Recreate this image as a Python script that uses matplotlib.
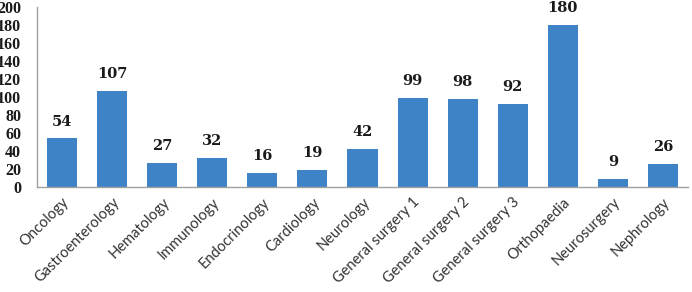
import matplotlib
matplotlib.use("Agg")
import matplotlib.pyplot as plt

departments = ["Oncology", "Gastroenterology", "Hematology", "Immunology",
               "Endocrinology", "Cardiology", "Neurology", "General surgery 1",
               "General surgery 2", "General surgery 3", "Orthopaedia",
               "Neurosurgery", "Nephrology"]
counts = [54, 107, 27, 32, 16, 19, 42, 99, 98, 92, 180, 9, 26]
yticks = list(range(0, 201, 20))

fig = plt.figure(figsize=(6.92, 2.92), dpi=100)
ax = fig.add_axes([37/692, 105/292, 651/692, 180/292])

x = range(len(departments))
ax.bar(x, counts, width=0.6, color="#3F83C7")
ax.set_xlim(-0.5, len(departments) - 0.5)
ax.set_ylim(0, 200)

for i, v in enumerate(counts):
    ax.annotate(str(v), (i, v), xytext=(0, 7), textcoords="offset points",
                ha="center", va="bottom", fontsize=10.5, fontweight="bold",
                family="DejaVu Serif", color="#1a1a1a")

ax.set_yticks(yticks)
ax.set_yticklabels([str(t) for t in yticks], fontsize=11.5, fontweight="bold",
                   family="Liberation Serif", color="#1a1a1a")
ax.set_xticks(list(x))
ax.set_xticklabels(departments, rotation=45, ha="right", rotation_mode="anchor",
                   fontsize=10.5, family="Lato", color="#333333")
ax.tick_params(axis="y", length=0, pad=11.5)
ax.tick_params(axis="x", length=0, pad=6)

for s in ["top", "right"]:
    ax.spines[s].set_visible(False)
for s in ["left", "bottom"]:
    ax.spines[s].set_color("#a0a0a0")
    ax.spines[s].set_linewidth(1)

fig.savefig("out.png", dpi=100)
